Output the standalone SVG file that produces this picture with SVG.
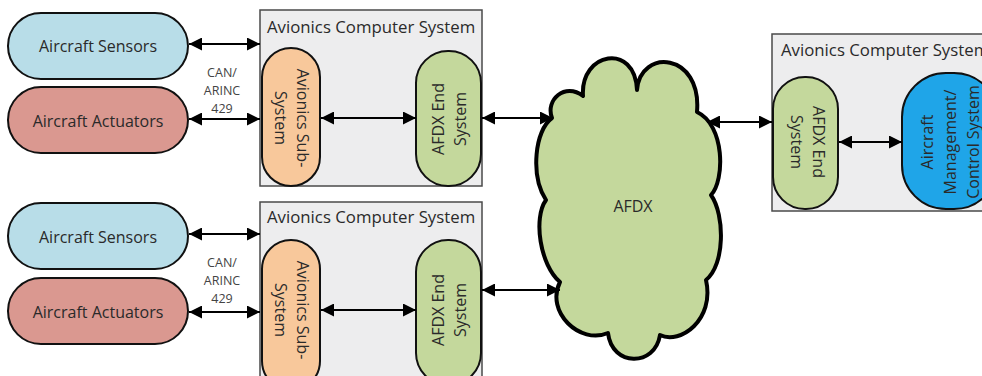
<svg xmlns="http://www.w3.org/2000/svg" width="982" height="376" viewBox="0 0 982 376">
<style>
text{font-family:"Open Sans","Noto Sans","Liberation Sans",sans-serif;fill:#2a2a2a}
.t{font-size:16px;text-anchor:middle}
.title{font-size:16.8px}
.small{font-size:12.5px;text-anchor:middle;fill:#444}
.box{fill:#ededee;stroke:#4a4a4a;stroke-width:1.5}
.pill{stroke:#111;stroke-width:2}
.sens{fill:#b8dde8}
.act{fill:#da9890}
.sub{fill:#f8c89b}
.afdx{fill:#c4d89c}
.mgmt{fill:#1fa5e8}
.conn line{stroke:#000;stroke-width:2;marker-start:url(#ah);marker-end:url(#ah)}
</style>
<defs>
<marker id="ah" markerUnits="userSpaceOnUse" markerWidth="13" markerHeight="13" viewBox="0 0 13 13" refX="13" refY="6.5" orient="auto-start-reverse">
<path d="M0,0 L13,6.5 L0,13 z" fill="#000"/>
</marker>
</defs>
<rect width="982" height="376" fill="#fff"/>

<g id="sensors1"><rect class="pill sens" x="8" y="13" width="180" height="66" rx="33"/><text class="t" x="98" y="52">Aircraft Sensors</text></g>
<g id="actuators1"><rect class="pill act" x="8" y="87" width="180" height="66" rx="33"/><text class="t" x="98" y="127">Aircraft Actuators</text></g>
<g id="canlabel1"><text class="small" x="222" y="77">CAN/</text><text class="small" x="222" y="95">ARINC</text><text class="small" x="222" y="113">429</text></g>

<g id="acs1"><rect class="box" x="260" y="10" width="222" height="176"/><text class="title" x="267" y="33">Avionics Computer System</text></g>
<g id="sub1"><rect class="pill sub" x="262" y="48" width="58" height="138" rx="29"/><text class="t" transform="translate(291,118) rotate(90)"><tspan x="0" y="-5.5">Avionics Sub-</tspan><tspan x="0" y="16.5">System</tspan></text></g>
<g id="es1"><rect class="pill afdx" x="416" y="51" width="65" height="135" rx="32"/><text class="t" transform="translate(449,119) rotate(-90)"><tspan x="0" y="-5.5">AFDX End</tspan><tspan x="0" y="16.5">System</tspan></text></g>

<g id="sensors2"><rect class="pill sens" x="8" y="203" width="180" height="66" rx="33"/><text class="t" x="98" y="243">Aircraft Sensors</text></g>
<g id="actuators2"><rect class="pill act" x="8" y="278" width="180" height="66" rx="33"/><text class="t" x="98" y="318">Aircraft Actuators</text></g>
<g id="canlabel2"><text class="small" x="222" y="267">CAN/</text><text class="small" x="222" y="285">ARINC</text><text class="small" x="222" y="303">429</text></g>

<g id="acs2"><rect class="box" x="260" y="202" width="222" height="190"/><text class="title" x="267" y="223">Avionics Computer System</text></g>
<g id="sub2"><rect class="pill sub" x="262" y="240" width="58" height="150" rx="29"/><text class="t" transform="translate(291,310) rotate(90)"><tspan x="0" y="-5.5">Avionics Sub-</tspan><tspan x="0" y="16.5">System</tspan></text></g>
<g id="es2"><rect class="pill afdx" x="416" y="240" width="65" height="145" rx="32"/><text class="t" transform="translate(449,310) rotate(-90)"><tspan x="0" y="-5.5">AFDX End</tspan><tspan x="0" y="16.5">System</tspan></text></g>

<g id="afdx">
<path class="afdx" stroke="#000" stroke-width="4" stroke-linejoin="round" d="M552,118 C545,100 565,82 583,96 C580,52 635,42 637,90 C640,48 702,52 697,112 C725,125 725,180 711,195 C725,215 725,265 706,280 C715,320 680,345 660,335 C655,367 612,367 608,333 C580,345 545,312 560,282 C540,265 533,218 546,200 C530,175 535,130 552,118 Z"/>
<text x="633" y="212" style="font-size:16px;text-anchor:middle">AFDX</text>
</g>

<g id="acs3"><rect class="box" x="772" y="34" width="220" height="177"/><text class="title" x="781" y="56">Avionics Computer System</text></g>
<g id="es3"><rect class="pill afdx" x="773" y="77" width="65" height="132" rx="32"/><text class="t" transform="translate(807,142) rotate(90)"><tspan x="0" y="-5.5">AFDX End</tspan><tspan x="0" y="16.5">System</tspan></text></g>
<g id="mgmt"><rect class="pill mgmt" x="902" y="73" width="96" height="136" rx="44"/><text class="t" transform="translate(950,142) rotate(-90)"><tspan x="0" y="-17.5">Aircraft</tspan><tspan x="0" y="5.5">Management/</tspan><tspan x="0" y="28.5">Control System</tspan></text></g>

<g id="connectors" class="conn">
<line x1="189" y1="44" x2="260" y2="44"/>
<line x1="189" y1="119" x2="260" y2="119"/>
<line x1="321" y1="118" x2="416" y2="118"/>
<line x1="482" y1="118" x2="553" y2="118"/>
<line x1="707" y1="122" x2="772" y2="122"/>
<line x1="839" y1="142" x2="902" y2="142"/>
<line x1="189" y1="234" x2="260" y2="234"/>
<line x1="189" y1="312" x2="260" y2="312"/>
<line x1="321" y1="310" x2="416" y2="310"/>
<line x1="482" y1="290" x2="560" y2="290"/>
</g>
</svg>
